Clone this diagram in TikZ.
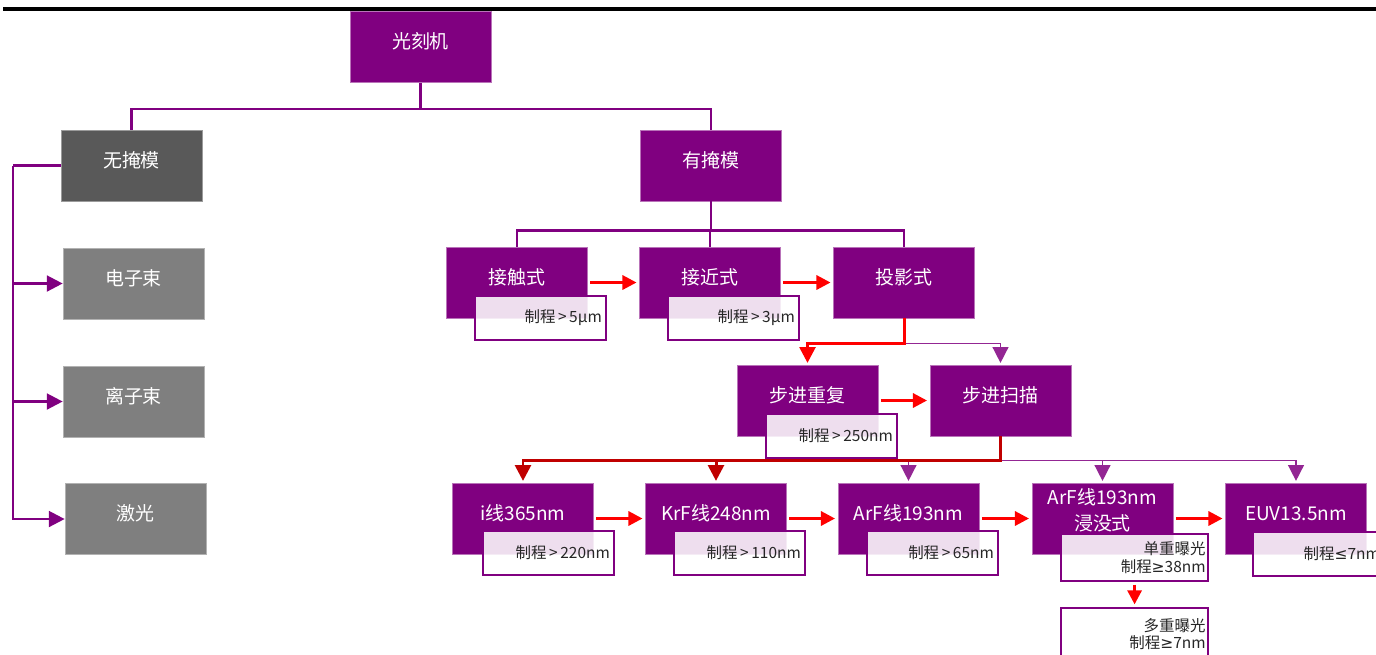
\documentclass[tikz,border=0pt]{standalone}
\usepackage{fontspec}
\usepackage{xcolor}
\usetikzlibrary{arrows.meta}
\newfontfamily\cjk{Noto Sans CJK SC}
\newfontfamily\symf{DejaVu Sans}
\definecolor{zimain}{RGB}{128,0,128}
\definecolor{huidark}{RGB}{89,89,89}
\definecolor{huilight}{RGB}{127,127,127}
\definecolor{anhong}{RGB}{192,0,0}
\definecolor{notetext}{RGB}{38,38,38}
\newcommand{\gt}{\,>\,}
\newcommand{\geqsym}{{\symf ≥}}
\newcommand{\leqsym}{{\symf ≤}}

\begin{document}
\begin{tikzpicture}[x=0.02cm, y=-0.02cm,
    mainbox/.style={fill=zimain, draw=zimain!55!white, line width=0.4pt, text=white,
        minimum width=2.82cm, minimum height=1.42cm, inner sep=0pt,
        text height=9.5pt, text depth=7.5pt, font=\cjk\fontsize{10.8}{14.8}\selectfont},
    graybox/.style={mainbox, fill=huilight, draw=huilight!60!white},
    notebox/.style={anchor=north west, draw=zimain, line width=1.1pt, fill=white,
        fill opacity=0.87, text opacity=1, text=notetext, minimum width=2.62cm,
        minimum height=0.88cm, inner xsep=2.5pt, text width=2.45cm, align=right,
        font=\cjk\fontsize{8.8}{10}\selectfont},
    widenote/.style={notebox, minimum width=2.94cm, minimum height=0.94cm, text width=2.84cm, inner xsep=1.5pt},
    stem/.style={zimain, line width=1.4pt},
    tipzi/.style={-{Triangle[length=9pt, width=9pt]}},
    jump/.style={red, line width=1.7pt, -{Triangle[length=8pt, width=8pt]},
        shorten <=1.5pt, shorten >=1.5pt},
    thinbus/.style={zimain!85!white, line width=0.9pt, -{Triangle[length=9pt, width=9pt]}, shorten >=1pt},
    redbus/.style={red, line width=1.7pt, -{Triangle[length=9pt, width=9pt]}, shorten >=1pt},
    darkbus/.style={anhong, line width=1.7pt, -{Triangle[length=9pt, width=9pt]}, shorten >=1pt}]

    \useasboundingbox (0,0) rectangle (1376,654);

    % Rule at the top
    \draw[line width=2pt] (3,9) -- (1376,9);

    % Root and first level
    \node[mainbox] (gkj) at (420.5,47) {光刻机};
    \node[mainbox, fill=huidark, draw=huidark!60!white] (wym) at (131.5,165.5) {无掩模};
    \node[mainbox] (yym) at (711,165.5) {有掩模};
    \draw[stem] (gkj.south) -- ++(0,26) -| (wym.north);
    \draw[stem] (gkj.south) -- ++(0,26) -| (yym.north);

    % Maskless branch
    \node[graybox] (dzs) at (133.5,283.5) {电子束};
    \node[graybox] (lzs) at (133.5,401.5) {离子束};
    \node[graybox] (jg) at (135.5,519) {激光};
    \coordinate (lbus) at (13,165.5);
    \draw[stem] (wym.west) -- (lbus);
    \draw[stem, tipzi] (lbus) |- (dzs.west);
    \draw[stem, tipzi] (lbus) |- (lzs.west);
    \draw[stem, tipzi] (lbus) |- (jg.west);

    % Mask branch
    \node[mainbox] (jcs) at (517,282.5) {接触式};
    \node[mainbox] (jjs) at (710,282.5) {接近式};
    \node[mainbox] (tys) at (904,282.5) {投影式};
    \draw[stem] (yym.south) -- ++(0,29) -| (jcs.north);
    \draw[stem] (yym.south) -- ++(0,29) -| (jjs.north);
    \draw[stem] (yym.south) -- ++(0,29) -| (tys.north);
    \node[notebox] (n1) at (474,295) {制程\gt 5μm};
    \node[notebox] (n2) at (667,295) {制程\gt 3μm};
    \draw[jump] (jcs.east) -- (jjs.west);
    \draw[jump] (jjs.east) -- (tys.west);

    % Projection types
    \node[mainbox] (bjcf) at (807.5,400.5) {步进重复};
    \node[mainbox] (bjsm) at (1000.5,400.5) {步进扫描};
    \draw[thinbus] (tys.south) -- ++(0,25) -| (bjsm.north);
    \draw[redbus] (tys.south) -- ++(0,25) -| (bjcf.north);
    \node[notebox] (n3) at (765,413) {制程\gt 250nm};
    \draw[jump] (bjcf.east) -- (bjsm.west);

    % Light sources
    \node[mainbox] (iline) at (523,518.5) {i线365nm};
    \node[mainbox] (krf) at (716,518.5) {KrF线248nm};
    \node[mainbox] (arf) at (908.5,518.5) {ArF线193nm};
    \node[mainbox, align=center, text height=, text depth=10pt] (arfj) at (1102.5,518.5) {ArF线193nm\\浸没式};
    \node[mainbox] (euv) at (1296,518.5) {EUV13.5nm};
    \draw[thinbus] (bjsm.south) -- ++(0,24) -| (arf.north);
    \draw[thinbus] (bjsm.south) -- ++(0,24) -| (arfj.north);
    \draw[thinbus] (bjsm.south) -- ++(0,24) -| (euv.north);
    \draw[darkbus] (bjsm.south) -- ++(0,24) -| (iline.north);
    \draw[darkbus] (bjsm.south) -- ++(0,24) -| (krf.north);
    \node[notebox] (n4) at (482,530) {制程\gt 220nm};
    \node[notebox] (n5) at (673,530) {制程\gt 110nm};
    \node[notebox] (n6) at (866,530) {制程\gt 65nm};
    \node[widenote] (n7) at (1060,533) {单重曝光\\制程\geqsym 38nm};
    \node[widenote, minimum height=1.04cm] (n8) at (1060,607) {多重曝光\\制程\geqsym 7nm};
    \node[notebox] (n9) at (1252,531) {制程\leqsym 7nm};
    \draw[jump] (iline.east) -- (krf.west);
    \draw[jump] (krf.east) -- (arf.west);
    \draw[jump] (arf.east) -- (arfj.west);
    \draw[jump] (arfj.east) -- (euv.west);
    \draw[jump] (n7.south) -- (n8.north);
\end{tikzpicture}
\end{document}
